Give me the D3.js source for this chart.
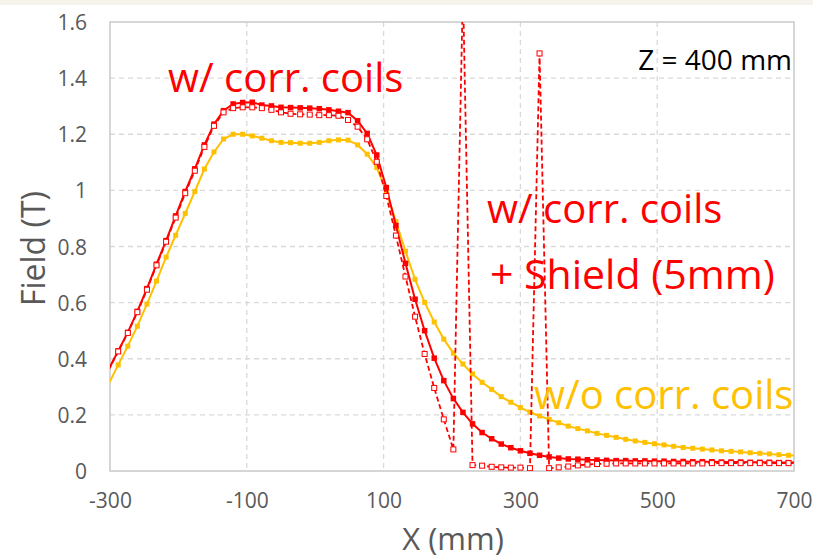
<!DOCTYPE html>
<html>
<head>
<meta charset="utf-8">
<script src="https://cdn.jsdelivr.net/npm/d3@7"></script>
<style>
    body { margin: 0; background: #fff; }
    text { font-family: "Open Sans", "Noto Sans", sans-serif; }
</style>
</head>
<body>
<div id="chart"></div>
<script>
// x positions of the samples (mm)
var xs = [-302, -288, -274, -260, -246, -232, -218, -204, -190, -176, -162, -148, -134, -120, -106,
    -92, -78, -64, -50, -36, -22, -8, 6, 20, 34, 48, 62, 76, 90, 104, 118, 132, 146, 160, 174,
    188, 202, 216, 230, 244, 258, 272, 286, 300, 314, 328, 342, 356, 370, 384, 398, 412, 426,
    440, 454, 468, 482, 496, 510, 524, 538, 552, 566, 580, 594, 608, 622, 636, 650, 664, 678,
    692, 706];

// w/o corr. coils
var noCoils = [0.31, 0.378, 0.445, 0.516, 0.595, 0.677, 0.762, 0.840, 0.918, 0.996, 1.076, 1.137,
    1.183, 1.200, 1.200, 1.194, 1.186, 1.177, 1.171, 1.170, 1.168, 1.168, 1.171, 1.177, 1.180,
    1.179, 1.162, 1.129, 1.081, 0.996, 0.889, 0.783, 0.683, 0.601, 0.531, 0.470, 0.420, 0.381,
    0.346, 0.316, 0.291, 0.265, 0.245, 0.226, 0.210, 0.196, 0.184, 0.172, 0.160, 0.151, 0.143,
    0.134, 0.127, 0.120, 0.113, 0.107, 0.102, 0.097, 0.093, 0.088, 0.084, 0.081, 0.078, 0.075,
    0.072, 0.070, 0.068, 0.065, 0.063, 0.061, 0.058, 0.056, 0.054];

// w/ corr. coils
var withCoils = [0.362, 0.428, 0.494, 0.569, 0.650, 0.737, 0.821, 0.909, 0.996, 1.077, 1.162, 1.236,
    1.284, 1.308, 1.313, 1.314, 1.304, 1.301, 1.296, 1.295, 1.294, 1.293, 1.291, 1.287, 1.282,
    1.277, 1.248, 1.203, 1.126, 1.010, 0.875, 0.740, 0.612, 0.500, 0.402, 0.322, 0.258, 0.209,
    0.168, 0.137, 0.115, 0.096, 0.083, 0.072, 0.063, 0.056, 0.050, 0.046, 0.043, 0.042, 0.040,
    0.039, 0.038, 0.037, 0.037, 0.036, 0.036, 0.035, 0.035, 0.034, 0.034, 0.033, 0.033, 0.033,
    0.032, 0.032, 0.032, 0.031, 0.031, 0.031, 0.030, 0.030, 0.030];

// w/ corr. coils + Shield (5mm)
var withShield = [0.360, 0.426, 0.492, 0.566, 0.646, 0.733, 0.817, 0.903, 0.990, 1.070, 1.155, 1.230,
    1.278, 1.293, 1.296, 1.296, 1.293, 1.287, 1.278, 1.273, 1.271, 1.270, 1.268, 1.268, 1.266,
    1.251, 1.227, 1.182, 1.102, 0.980, 0.839, 0.693, 0.550, 0.417, 0.296, 0.184, 0.077, 1.72,
    0.021, 0.019, 0.015, 0.013, 0.012, 0.012, 0.010, 1.488, 0.010, 0.013, 0.016, 0.020, 0.023,
    0.025, 0.026, 0.027, 0.027, 0.027, 0.027, 0.027, 0.027, 0.027, 0.027, 0.027, 0.027, 0.028,
    0.028, 0.028, 0.028, 0.028, 0.028, 0.028, 0.028, 0.028, 0.028];

var xTicks = [-300, -100, 100, 300, 500, 700];
var xTickLabels = ["-300", "-100", "100", "300", "500", "700"];
var yTicks = [0, 0.2, 0.4, 0.6, 0.8, 1, 1.2, 1.4, 1.6];
var yTickLabels = ["0", "0.2", "0.4", "0.6", "0.8", "1", "1.2", "1.4", "1.6"];

(function () {
    var width = 813,
        height = 560;
    var left = 110, right = 794, top = 22, bottom = 471;

    var red = "#FF0000", gold = "#FFC000", axisGrey = "#595959";

    var svg = d3.select("#chart").append("svg")
        .attr("width", width)
        .attr("height", height);

    // faint strip along the top of the slide
    svg.append("rect")
        .attr("x", 0).attr("y", 0)
        .attr("width", width).attr("height", 5)
        .attr("fill", "#F6F3EC");

    var x = d3.scaleLinear().domain([-300, 700]).range([left, right]);
    var y = d3.scaleLinear().domain([0, 1.6]).range([bottom, top]);

    svg.append("defs").append("clipPath")
        .attr("id", "plot-clip")
        .append("rect")
        .attr("x", left).attr("y", top)
        .attr("width", right - left).attr("height", bottom - top);

    // grid
    svg.append("g")
        .selectAll("line")
        .data(yTicks.filter(d => d > 0 && d < 1.6))
        .enter().append("line")
        .attr("x1", left).attr("x2", right)
        .attr("y1", d => y(d)).attr("y2", d => y(d))
        .attr("stroke", "#D9D9D9")
        .attr("stroke-width", 1.3)
        .attr("stroke-dasharray", "5,4");

    svg.append("g")
        .selectAll("line")
        .data(xTicks.filter(d => d > -300 && d < 700))
        .enter().append("line")
        .attr("x1", d => x(d)).attr("x2", d => x(d))
        .attr("y1", top).attr("y2", bottom)
        .attr("stroke", "#D9D9D9")
        .attr("stroke-width", 1.3)
        .attr("stroke-dasharray", "5,4");

    // plot frame
    svg.append("rect")
        .attr("x", left).attr("y", top)
        .attr("width", right - left).attr("height", bottom - top)
        .attr("fill", "none")
        .attr("stroke", "#C9C9C9")
        .attr("stroke-width", 1.5);

    // axes
    var xAxis = d3.axisBottom(x).tickValues(xTicks).tickSize(0).tickPadding(24)
        .tickFormat((d, i) => xTickLabels[i]);
    var yAxis = d3.axisLeft(y).tickValues(yTicks).tickSize(0).tickPadding(23)
        .tickFormat((d, i) => yTickLabels[i]);

    var gx = svg.append("g")
        .attr("transform", "translate(0," + bottom + ")")
        .call(xAxis);
    var gy = svg.append("g")
        .attr("transform", "translate(" + left + ",0)")
        .call(yAxis);

    [gx, gy].forEach(function (g) {
        g.select(".domain").remove();
        g.selectAll("text")
            .attr("fill", axisGrey)
            .style("font-size", "21px")
            .style("font-family", "'Open Sans', sans-serif");
    });
    gy.selectAll("text").attr("dy", "0.36em");
    gx.selectAll("text").attr("dy", "0.6em");

    // axis titles
    svg.append("text")
        .attr("transform", "translate(45," + ((top + bottom) / 2 + 2) + ") rotate(-90)")
        .style("text-anchor", "middle")
        .style("font-size", "32px")
        .attr("fill", axisGrey)
        .text("Field (T)");

    svg.append("text")
        .attr("x", 453)
        .attr("y", 550)
        .style("text-anchor", "middle")
        .style("font-size", "31px")
        .attr("fill", axisGrey)
        .text("X (mm)");

    // series
    function points(vals) {
        return xs.map((d, i) => ({ x: d, y: vals[i] }));
    }
    function visible(p) {
        return p.x >= -300 && p.x <= 700 && p.y <= 1.6;
    }

    var line = d3.line()
        .x(d => x(d.x))
        .y(d => y(d.y));

    var plot = svg.append("g").attr("clip-path", "url(#plot-clip)");

    var series = [
        { name: "noCoils", vals: noCoils, color: gold, width: 2, dash: null, size: 5, hollow: false },
        { name: "withCoils", vals: withCoils, color: red, width: 2, dash: null, size: 5.5, hollow: false },
        { name: "withShield", vals: withShield, color: red, width: 1.8, dash: "5,3", size: 5, hollow: true }
    ];

    series.forEach(function (s) {
        var pts = points(s.vals);
        plot.append("path")
            .datum(pts)
            .attr("fill", "none")
            .attr("stroke", s.color)
            .attr("stroke-width", s.width)
            .attr("stroke-dasharray", s.dash)
            .attr("d", line);

        plot.append("g")
            .selectAll("rect")
            .data(pts.filter(visible))
            .enter().append("rect")
            .attr("x", d => x(d.x) - s.size / 2)
            .attr("y", d => y(d.y) - s.size / 2)
            .attr("width", s.size)
            .attr("height", s.size)
            .attr("fill", s.hollow ? "#fff" : s.color)
            .attr("stroke", s.color)
            .attr("stroke-width", s.hollow ? 1 : 0);
    });

    // annotations
    var notes = [
        { text: "w/ corr. coils", x: 168, y: 92, color: red },
        { text: "w/ corr. coils", x: 487, y: 223, color: red },
        { text: "+ Shield (5mm)", x: 490, y: 289, color: red },
        { text: "w/o corr. coils", x: 534, y: 409, color: gold }
    ];
    svg.append("g")
        .selectAll("text")
        .data(notes)
        .enter().append("text")
        .attr("x", d => d.x)
        .attr("y", d => d.y)
        .attr("fill", d => d.color)
        .style("font-size", d => d.text.charAt(0) === "+" ? "41px" : "40px")
        .text(d => d.text);

    svg.append("text")
        .attr("x", 792)
        .attr("y", 70)
        .style("text-anchor", "end")
        .style("font-size", "28px")
        .attr("fill", "#000")
        .text("Z = 400 mm");
})();
</script>
</body>
</html>
